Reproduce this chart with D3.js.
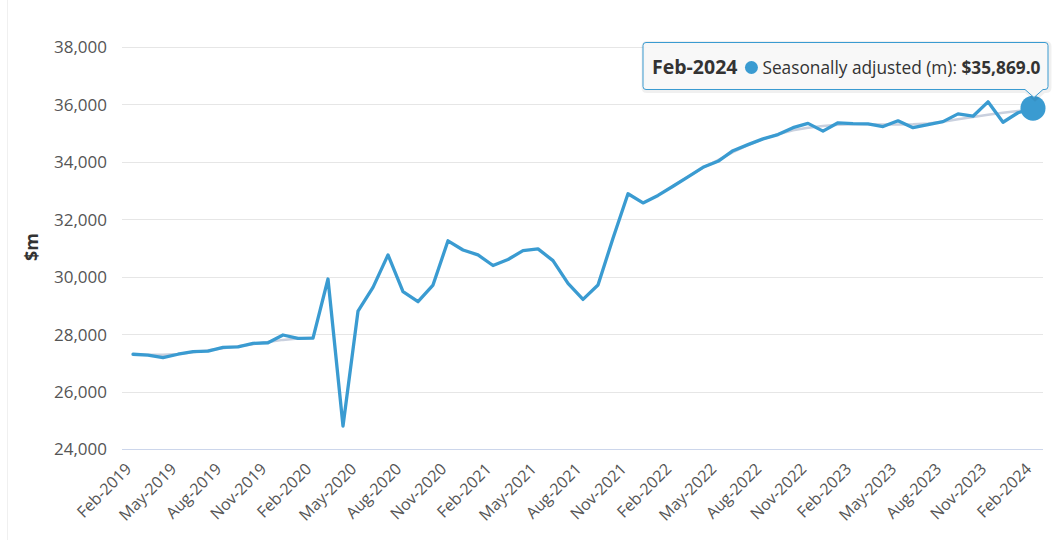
<!DOCTYPE html>
<html>
<head>
<meta charset="utf-8">
<script src="https://cdn.jsdelivr.net/npm/d3@7"></script>
<style>
  html, body { margin: 0; padding: 0; background: #fff; }
  svg { display: block; font-family: "Open Sans", sans-serif; }
</style>
</head>
<body>
<svg id="chart" width="1058" height="540"></svg>
<script>
// ---- data ----
const startMonth = "2019-02";
const seasonallyAdjusted = [
  27300, 27270, 27180, 27300, 27390, 27410, 27540, 27560, 27680, 27700, 27970, 27850, // Feb-19..Jan-20
  27860, 29920, 24800, 28800, 29630, 30760, 29480, 29130, 29710, 31250, 30930, 30760, // Feb-20..Jan-21
  30390, 30600, 30910, 30970, 30560, 29770, 29210, 29710, 31340, 32890, 32570, 32830, // Feb-21..Jan-22
  33150, 33480, 33810, 34020, 34390, 34600, 34800, 34950, 35190, 35340, 35070, 35360, // Feb-22..Jan-23
  35330, 35320, 35230, 35430, 35190, 35300, 35400, 35670, 35590, 36090, 35380, 35710, // Feb-23..Jan-24
  35869                                                                               // Feb-24
];
const trend = [
  27290, 27280, 27280, 27310, 27370, 27440, 27510, 27580, 27650, 27730, 27800, 27850,
  27880, null, null, null, null, null, null, null, null, null, null, null,
  null, null, null, null, null, null, null, null, null, null, null, null,
  33160, 33480, 33800, 34060, 34340, 34580, 34790, 34960, 35100, 35190, 35250, 35290,
  35310, 35310, 35300, 35300, 35310, 35340, 35400, 35480, 35560, 35640, 35710, 35770,
  35820
];
const yTicks = [24000, 26000, 28000, 30000, 32000, 34000, 36000, 38000];
const xTickLabels = ["Feb-2019","May-2019","Aug-2019","Nov-2019","Feb-2020","May-2020","Aug-2020",
  "Nov-2020","Feb-2021","May-2021","Aug-2021","Nov-2021","Feb-2022","May-2022","Aug-2022",
  "Nov-2022","Feb-2023","May-2023","Aug-2023","Nov-2023","Feb-2024"];
const seriesName = "Seasonally adjusted (m)";
const yTitle = "$m";

// ---- setup ----
const fmtMonth = d3.timeFormat("%b-%Y");
const parseMonth = d3.timeParse("%Y-%m");
const months = seasonallyAdjusted.map((_, i) => d3.timeMonth.offset(parseMonth(startMonth), i));
const labels = months.map(fmtMonth);

const svg = d3.select("#chart");
const blue = "#3a9bd1";

const plotLeft = 122, plotRight = 1043;
const x = d3.scalePoint().domain(labels).range([133, 1033]);
const y = d3.scaleLinear().domain([24000, 38000]).range([449, 47]);

// faint left border
svg.append("line").attr("x1", 7.5).attr("x2", 7.5).attr("y1", 0).attr("y2", 540)
  .attr("stroke", "#f0f0f0").attr("stroke-width", 1);

// grid
svg.append("g").selectAll("line").data(yTicks.filter(d => d !== 24000)).join("line")
  .attr("x1", plotLeft).attr("x2", plotRight)
  .attr("y1", d => Math.round(y(d)) + 0.5).attr("y2", d => Math.round(y(d)) + 0.5)
  .attr("stroke", "#e6e6e6").attr("stroke-width", 1);

// y axis labels via d3.axisLeft
const yAxis = d3.axisLeft(y).tickValues(yTicks).tickFormat(d3.format(",")).tickSize(0).tickPadding(0);
const gy = svg.append("g").attr("transform", "translate(107,0)").call(yAxis);
gy.select(".domain").remove();
gy.selectAll("text").attr("font-family", "Open Sans").attr("font-size", 17).attr("fill", "#555")
  .attr("dy", "0.35em");

// x axis line
svg.append("line").attr("x1", plotLeft).attr("x2", plotRight)
  .attr("y1", Math.round(y(24000)) + 0.5).attr("y2", Math.round(y(24000)) + 0.5)
  .attr("stroke", "#ccd6eb").attr("stroke-width", 1);

// x axis labels
const xAxis = d3.axisBottom(x).tickValues(xTickLabels).tickSize(0).tickPadding(0);
const gx = svg.append("g").attr("transform", "translate(0,449)").call(xAxis);
gx.select(".domain").remove();
gx.selectAll("text")
  .attr("font-family", "Open Sans").attr("font-size", 16).attr("fill", "#555")
  .attr("text-anchor", "end").attr("dy", null).attr("y", 0)
  .attr("transform", "translate(-1,21) rotate(-45)");

// y title
svg.append("text").attr("transform", `translate(38,247) rotate(-90)`)
  .attr("text-anchor", "middle").attr("font-size", 18).attr("font-weight", "bold")
  .attr("fill", "#333").text(yTitle);

// trend line
const line = d3.line().defined(d => d.v != null).x(d => x(d.m)).y(d => y(d.v));
svg.append("path")
  .datum(labels.map((m, i) => ({ m, v: trend[i] })))
  .attr("d", line).attr("fill", "none").attr("stroke", "#c9d0de").attr("stroke-width", 2.5)
  .attr("stroke-linejoin", "round");

// main line
svg.append("path")
  .datum(labels.map((m, i) => ({ m, v: seasonallyAdjusted[i] })))
  .attr("d", line).attr("fill", "none").attr("stroke", blue).attr("stroke-width", 3.3)
  .attr("stroke-linejoin", "round").attr("stroke-linecap", "round");

// hover marker
const last = seasonallyAdjusted.length - 1;
const mx = x(labels[last]), my = y(seasonallyAdjusted[last]);
svg.append("circle").attr("cx", mx).attr("cy", my).attr("r", 12.5).attr("fill", blue);

// tooltip
const tt = svg.append("g");
const bx = 643, by = 42.5, bw = 405, bh = 47;
const tipX = mx + 1;
const pathD = `M${bx + 3},${by} H${bx + bw - 3} Q${bx + bw},${by} ${bx + bw},${by + 3} V${by + bh - 3} Q${bx + bw},${by + bh} ${bx + bw - 3},${by + bh}` +
  ` H${tipX + 9} L${tipX},${by + bh + 8} L${tipX - 9},${by + bh} H${bx + 3} Q${bx},${by + bh} ${bx},${by + bh - 3} V${by + 3} Q${bx},${by} ${bx + 3},${by} Z`;
tt.append("path").attr("d", pathD).attr("fill", "none").attr("stroke", "#000").attr("stroke-opacity", 0.06)
  .attr("stroke-width", 5).attr("transform", "translate(1,1)");
tt.append("path").attr("d", pathD).attr("fill", "rgba(247,247,247,0.92)").attr("stroke", blue).attr("stroke-width", 1);

const t1 = tt.append("text").attr("x", 652).attr("y", 74).attr("font-size", 19.5).attr("font-weight", "bold")
  .attr("fill", "#333").text(labels[last]);
const w1 = t1.node().getComputedTextLength();
tt.append("circle").attr("cx", 652 + w1 + 14).attr("cy", 67.5).attr("r", 6.5).attr("fill", blue);
const t2 = tt.append("text").attr("x", 652 + w1 + 25).attr("y", 74).attr("font-size", 17.3).attr("fill", "#333");
t2.append("tspan").text(seriesName + ": ");
t2.append("tspan").attr("font-weight", "bold").text("$" + d3.format(",.1f")(seasonallyAdjusted[last]));
</script>
</body>
</html>
